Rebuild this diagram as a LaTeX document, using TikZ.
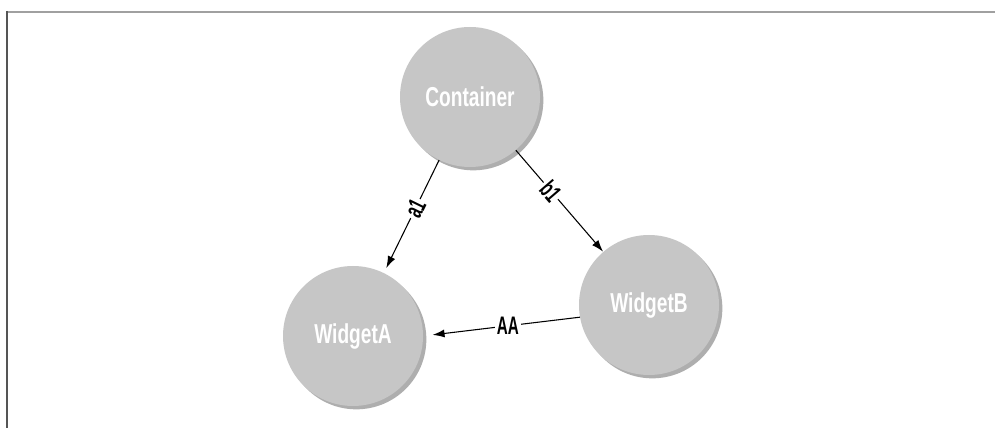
\documentclass[tikz,border=0pt]{standalone}
\usepackage{fontspec}
\setmainfont{Liberation Sans}
\newfontfamily\condfont{Liberation Sans}[FakeStretch=0.7]
\newfontfamily\labfont{Liberation Sans}[FakeStretch=0.6]
\usetikzlibrary{arrows.meta,shadows}
\definecolor{disc}{HTML}{C6C6C6}
\definecolor{shade}{HTML}{9A9A9A}
\definecolor{frametop}{HTML}{A0A0A0}
\definecolor{frameleft}{HTML}{555555}
\tikzset{
  objnode/.style={circle, fill=disc, minimum size=140*0.75pt, inner sep=0pt,
    text=white, font=\condfont\bfseries\fontsize{20.5}{22}\selectfont,
    drop shadow={shadow xshift=2.5pt, shadow yshift=-2.5pt, fill=shade, opacity=0.8}},
  link/.style={draw=black, line width=0.8pt, -{Latex[length=9pt,width=6pt]}},
  linklabel/.style={fill=white, inner sep=1.5pt, text=black,
    font=\labfont\bfseries\fontsize{19}{20}\selectfont}
}
\begin{document}
\begin{tikzpicture}[x=0.75pt,y=0.75pt]
\useasboundingbox (0,0) rectangle (995,428);
\fill[white] (0,0) rectangle (995,428);
% frame
\draw[frametop, line width=2pt] (6,416) -- (995,416);
\draw[frameleft, line width=2pt] (7,417) -- (7,0);
% nodes
\node[objnode] (C) at (470,331) {Container};
\node[objnode] (B) at (649,123) {WidgetB};
\node[objnode] (A) at (353,92) {WidgetA};
% connectors
\draw[link, shorten >=4pt] (C) -- node[linklabel, sloped, pos=0.43] {a1} (A);
\draw[link] (C) -- node[linklabel, sloped, pos=0.4] {b1} (B);
\draw[link, shorten >=7pt] (B.190) -- node[linklabel, pos=0.46] {AA} (A.0);
\end{tikzpicture}
\end{document}
